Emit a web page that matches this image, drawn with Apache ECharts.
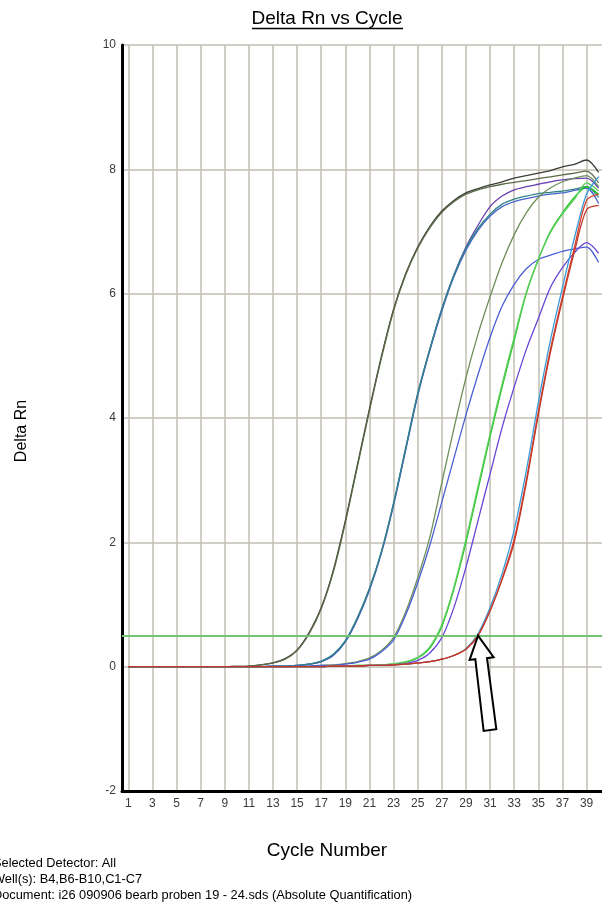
<!DOCTYPE html>
<html>
<head>
<meta charset="utf-8">
<title>Delta Rn vs Cycle</title>
<script src="https://cdn.jsdelivr.net/npm/echarts@6/dist/echarts.min.js"></script>
<style>
    html, body { margin: 0; padding: 0; background: #fff; }
    #chart { width: 602px; height: 910px; }
</style>
</head>
<body>
<div id="chart"></div>
<script>
// cycle numbers (x) and the labelled ticks
var cycles = [1, 2, 3, 4, 5, 6, 7, 8, 9, 10, 11, 12, 13, 14, 15, 16, 17, 18, 19, 20,
    21, 22, 23, 24, 25, 26, 27, 28, 29, 30, 31, 32, 33, 34, 35, 36, 37, 38, 39, 40];
var xTicks = [1, 3, 5, 7, 9, 11, 13, 15, 17, 19, 21, 23, 25, 27, 29, 31, 33, 35, 37, 39];
var threshold = 0.5;
var arrowCycle = 30;   // where the arrow points at the threshold

// Delta Rn per cycle
var darkA = [0, 0, 0, 0, 0, 0, 0, 0, 0, 0.005,
    0.01, 0.03, 0.06, 0.13, 0.27, 0.55, 0.95, 1.55, 2.35, 3.25,
    4.15, 5.0, 5.75, 6.32, 6.75, 7.08, 7.33, 7.5, 7.62, 7.69,
    7.75, 7.8, 7.86, 7.9, 7.94, 7.98, 8.04, 8.08, 8.15, 7.95];
var darkB = [0, 0, 0, 0, 0, 0, 0, 0, 0, 0.005,
    0.01, 0.03, 0.06, 0.12, 0.26, 0.53, 0.93, 1.52, 2.32, 3.22,
    4.12, 4.97, 5.73, 6.3, 6.73, 7.06, 7.31, 7.48, 7.6, 7.67,
    7.72, 7.76, 7.79, 7.82, 7.85, 7.88, 7.91, 7.94, 7.97, 7.78];
var purple2 = [0, 0, 0, 0, 0, 0, 0, 0, 0, 0,
    0, 0, 0.01, 0.01, 0.02, 0.04, 0.08, 0.19, 0.41, 0.78,
    1.25, 1.85, 2.62, 3.5, 4.38, 5.1, 5.75, 6.3, 6.75, 7.1,
    7.4, 7.57, 7.67, 7.72, 7.76, 7.8, 7.83, 7.85, 7.86, 7.7];
var blue2 = [0, 0, 0, 0, 0, 0, 0, 0, 0, 0,
    0, 0, 0.01, 0.01, 0.02, 0.04, 0.08, 0.18, 0.4, 0.76,
    1.23, 1.83, 2.6, 3.48, 4.36, 5.08, 5.72, 6.27, 6.7, 7.02,
    7.25, 7.4, 7.48, 7.53, 7.57, 7.6, 7.62, 7.66, 7.7, 7.45];
var teal2 = [0, 0, 0, 0, 0, 0, 0, 0, 0, 0,
    0, 0, 0.01, 0.01, 0.02, 0.04, 0.09, 0.2, 0.42, 0.79,
    1.26, 1.86, 2.64, 3.52, 4.4, 5.11, 5.76, 6.3, 6.73, 7.05,
    7.28, 7.44, 7.52, 7.57, 7.61, 7.63, 7.65, 7.68, 7.72, 7.55];
var olive3 = [0, 0, 0, 0, 0, 0, 0, 0, 0, 0,
    0, 0, 0, 0, 0.01, 0.01, 0.02, 0.03, 0.05, 0.08,
    0.14, 0.26, 0.47, 0.88, 1.43, 2.08, 2.96, 3.83, 4.65, 5.35,
    5.95, 6.5, 6.95, 7.3, 7.55, 7.7, 7.8, 7.86, 7.9, 7.72];
var blue3 = [0, 0, 0, 0, 0, 0, 0, 0, 0, 0,
    0, 0, 0, 0, 0.01, 0.01, 0.02, 0.02, 0.04, 0.07,
    0.12, 0.24, 0.43, 0.83, 1.35, 1.95, 2.65, 3.35, 4.05, 4.7,
    5.3, 5.8, 6.15, 6.4, 6.55, 6.62, 6.68, 6.72, 6.75, 6.5];
var green4a = [0, 0, 0, 0, 0, 0, 0, 0, 0, 0,
    0, 0, 0, 0, 0, 0, 0, 0.01, 0.01, 0.02,
    0.02, 0.03, 0.04, 0.07, 0.14, 0.3, 0.65, 1.25, 2.0, 2.85,
    3.7, 4.5, 5.25, 6.0, 6.55, 7.0, 7.3, 7.55, 7.72, 7.6];
var green4b = [0, 0, 0, 0, 0, 0, 0, 0, 0, 0,
    0, 0, 0, 0, 0, 0, 0, 0.01, 0.01, 0.02,
    0.02, 0.03, 0.05, 0.08, 0.15, 0.32, 0.68, 1.28, 2.05, 2.9,
    3.75, 4.55, 5.3, 6.02, 6.55, 6.98, 7.28, 7.52, 7.78, 7.65];
var violet4 = [0, 0, 0, 0, 0, 0, 0, 0, 0, 0,
    0, 0, 0, 0, 0, 0, 0, 0.01, 0.01, 0.01,
    0.02, 0.02, 0.03, 0.05, 0.1, 0.22, 0.47, 0.95, 1.6, 2.35,
    3.1, 3.85, 4.5, 5.1, 5.6, 6.1, 6.42, 6.66, 6.82, 6.65];
var lightBlue5 = [0, 0, 0, 0, 0, 0, 0, 0, 0, 0,
    0, 0, 0, 0, 0, 0, 0, 0.01, 0.01, 0.01,
    0.02, 0.02, 0.03, 0.04, 0.06, 0.08, 0.12, 0.18, 0.29, 0.53,
    0.95, 1.5, 2.2, 3.15, 4.25, 5.25, 6.1, 6.9, 7.6, 7.88];
var red5a = [0, 0, 0, 0, 0, 0, 0, 0, 0, 0,
    0, 0, 0, 0, 0, 0, 0, 0.01, 0.01, 0.01,
    0.02, 0.02, 0.03, 0.04, 0.06, 0.08, 0.12, 0.18, 0.28, 0.5,
    0.9, 1.42, 2.05, 3.0, 4.1, 5.1, 5.95, 6.75, 7.5, 7.6];
var red5b = [0, 0, 0, 0, 0, 0, 0, 0, 0, 0,
    0, 0, 0, 0, 0, 0, 0, 0.01, 0.01, 0.01,
    0.02, 0.02, 0.03, 0.04, 0.06, 0.08, 0.12, 0.18, 0.28, 0.5,
    0.9, 1.4, 2.0, 2.95, 4.05, 5.05, 5.9, 6.68, 7.35, 7.42];

var wells = [
    {name: 'darkA', data: darkA, color: '#3c3c38'},
    {name: 'darkB', data: darkB, color: '#5b6b48'},
    {name: 'purple2', data: purple2, color: '#6a3fb0'},
    {name: 'blue2', data: blue2, color: '#4563c8'},
    {name: 'teal2', data: teal2, color: '#2f8585'},
    {name: 'olive3', data: olive3, color: '#6c8f58'},
    {name: 'blue3', data: blue3, color: '#4a5fd6'},
    {name: 'green4a', data: green4a, color: '#22c322'},
    {name: 'green4b', data: green4b, color: '#5fcf5f'},
    {name: 'violet4', data: violet4, color: '#6745d8'},
    {name: 'lightBlue5', data: lightBlue5, color: '#3a9ad9'},
    {name: 'red5a', data: red5a, color: '#d8402c'},
    {name: 'red5b', data: red5b, color: '#c0392b'}
];

var chart = echarts.init(document.getElementById('chart'));
var font = 'Liberation Sans, Arial, sans-serif';

var series = [];
for (var i = 0; i < wells.length; i++) {
    var pts = [];
    for (var k = 0; k < cycles.length; k++) {
        pts.push([cycles[k], wells[i].data[k]]);
    }
    series.push({
        name: wells[i].name,
        type: 'line',
        data: pts,
        showSymbol: false,
        silent: true,
        smooth: 0.3,
        lineStyle: {color: wells[i].color, width: 1.3},
        z: 3
    });
}
// threshold line
series[0].markLine = {
    silent: true,
    symbol: 'none',
    label: {show: false},
    lineStyle: {color: '#74c274', width: 2, type: 'solid'},
    data: [{yAxis: threshold}]
};

var option = {
    animation: false,
    backgroundColor: '#fff',
    grid: {left: 122, right: 0, top: 45, bottom: 119},
    xAxis: {
        type: 'value',
        min: 0.48,
        max: 40.28,
        axisLine: {onZero: false, lineStyle: {color: '#000', width: 3}},
        axisTick: {show: false, customValues: xTicks},
        axisLabel: {customValues: xTicks, color: '#3a3a3a', fontSize: 12, fontFamily: font, margin: 7},
        splitLine: {show: true, lineStyle: {color: '#c2beb2', width: 1.5}}
    },
    yAxis: {
        type: 'value',
        min: -2,
        max: 10,
        interval: 2,
        axisLine: {show: true, onZero: false, lineStyle: {color: '#000', width: 3}},
        axisTick: {show: false},
        axisLabel: {color: '#3a3a3a', fontSize: 12, fontFamily: font, margin: 6},
        splitLine: {show: true, lineStyle: {color: '#c2beb2', width: 1.5}}
    },
    series: series,
    graphic: [
        {id: 'title', type: 'text', z: 10,
            style: {x: 327, y: 19, text: 'Delta Rn vs Cycle', fill: '#000', font: '19px ' + font,
                textAlign: 'center', textVerticalAlign: 'middle'}},
        {id: 'ul', type: 'line', shape: {x1: 252, y1: 28.5, x2: 403, y2: 28.5},
            style: {stroke: '#000', lineWidth: 1.5}},
        {id: 'yname', type: 'text', x: 22, y: 431, rotation: Math.PI / 2,
            style: {x: 0, y: 0, text: 'Delta Rn', fill: '#000', font: '16px ' + font,
                textAlign: 'center', textVerticalAlign: 'middle'}},
        {id: 'xname', type: 'text',
            style: {x: 327, y: 851, text: 'Cycle Number', fill: '#000', font: '19px ' + font,
                textAlign: 'center', textVerticalAlign: 'middle'}},
        {id: 'info1', type: 'text',
            style: {x: -7, y: 863, text: 'Selected Detector: All', fill: '#000', font: '12.8px ' + font,
                textVerticalAlign: 'middle'}},
        {id: 'info2', type: 'text',
            style: {x: -7, y: 879, text: 'Well(s): B4,B6-B10,C1-C7', fill: '#000', font: '12.8px ' + font,
                textVerticalAlign: 'middle'}},
        {id: 'info3', type: 'text',
            style: {x: -7, y: 895, text: 'Document: i26 090906 bearb proben 19 - 24.sds (Absolute Quantification)',
                fill: '#000', font: '12.8px ' + font, textVerticalAlign: 'middle'}}
    ]
};
chart.setOption(option);

// arrow pointing at the Ct crossing
var tip = chart.convertToPixel({gridIndex: 0}, [arrowCycle, threshold]);
var off = [[0, 0], [15.6, 21.6], [9, 22.6], [18.3, 93.6], [5.6, 95.3], [-2.7, 23.6], [-8.4, 24.3]];
var arrowPts = [];
for (var j = 0; j < off.length; j++) {
    arrowPts.push([tip[0] + off[j][0], tip[1] + off[j][1]]);
}
chart.setOption({
    graphic: [{id: 'arrow', type: 'polygon', z: 20, shape: {points: arrowPts},
        style: {fill: '#fff', stroke: '#000', lineWidth: 2}}]
});
</script>
</body>
</html>
